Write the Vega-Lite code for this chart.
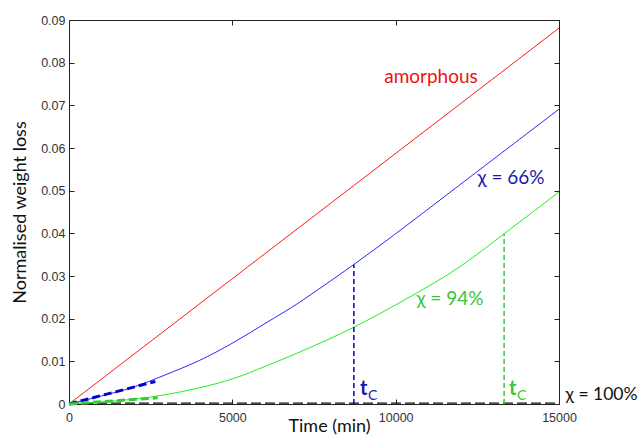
{
  "$schema": "https://vega.github.io/schema/vega-lite/v6.json",
  "autosize": "none",
  "width": 490,
  "height": 384,
  "padding": {"left": 69, "top": 20, "right": 83, "bottom": 32},
  "background": "white",
  "config": {
    "view": {"stroke": "#222", "strokeWidth": 1},
    "axis": {
      "domain": false,
      "grid": false,
      "tickColor": "#222",
      "tickSize": -5,
      "labelFont": "Liberation Sans",
      "labelFontSize": 12.5,
      "labelColor": "#333",
      "labelFlush": false,
      "titleFont": "Lato",
      "titleFontWeight": "normal",
      "titleFontSize": 18,
      "titleColor": "#111"
    }
  },
  "datasets": {
    "curves": [
      {"series": "amorphous", "t": 0, "v": 0},
      {"series": "amorphous", "t": 15000, "v": 0.0881},
      {"series": "c66", "t": 0, "v": 0},
      {"series": "c66", "t": 1000, "v": 0.0019},
      {"series": "c66", "t": 1950, "v": 0.0039},
      {"series": "c66", "t": 2970, "v": 0.0069},
      {"series": "c66", "t": 3990, "v": 0.0102},
      {"series": "c66", "t": 5010, "v": 0.0143},
      {"series": "c66", "t": 6030, "v": 0.0190},
      {"series": "c66", "t": 7071, "v": 0.0239},
      {"series": "c66", "t": 7377, "v": 0.0255},
      {"series": "c66", "t": 8720, "v": 0.0327},
      {"series": "c66", "t": 9929, "v": 0.0395},
      {"series": "c66", "t": 11969, "v": 0.0514},
      {"series": "c66", "t": 15000, "v": 0.0691},
      {"series": "c94", "t": 0, "v": 0},
      {"series": "c94", "t": 1000, "v": 0.0005},
      {"series": "c94", "t": 1950, "v": 0.0011},
      {"series": "c94", "t": 2970, "v": 0.0022},
      {"series": "c94", "t": 3990, "v": 0.0038},
      {"series": "c94", "t": 5010, "v": 0.0059},
      {"series": "c94", "t": 6030, "v": 0.0089},
      {"series": "c94", "t": 7071, "v": 0.0122},
      {"series": "c94", "t": 8720, "v": 0.0180},
      {"series": "c94", "t": 10133, "v": 0.0238},
      {"series": "c94", "t": 11969, "v": 0.0322},
      {"series": "c94", "t": 13320, "v": 0.0399},
      {"series": "c94", "t": 15000, "v": 0.0497},
      {"series": "tan66", "t": 0, "v": 0},
      {"series": "tan66", "t": 2643, "v": 0.00528},
      {"series": "tan94", "t": 0, "v": 0},
      {"series": "tan94", "t": 2714, "v": 0.00145},
      {"series": "tc66", "t": 8720, "v": 0},
      {"series": "tc66", "t": 8720, "v": 0.0327},
      {"series": "tc94", "t": 13320, "v": 0},
      {"series": "tc94", "t": 13320, "v": 0.0399},
      {"series": "c100", "t": 0, "v": 0.0002},
      {"series": "c100", "t": 15000, "v": 0.0002}
    ],
    "labels": [
      {"name": "amorphous", "t": 11081, "v": 0.0766, "text": "amorphous"},
      {"name": "l66", "t": 13530, "v": 0.0529, "text": "χ = 66%"},
      {"name": "l94", "t": 11662, "v": 0.0245, "text": "χ = 94%"},
      {"name": "l100", "t": 15200, "v": 0.0020, "text": "χ = 100%"},
      {"name": "t66", "t": 8908, "v": 0.0020, "text": "t"},
      {"name": "C66", "t": 9153, "v": 0.0010, "text": "C"},
      {"name": "t94", "t": 13469, "v": 0.0020, "text": "t"},
      {"name": "C94", "t": 13714, "v": 0.0010, "text": "C"}
    ]
  },
  "resolve": {"axis": {"x": "independent", "y": "independent"}},
  "layer": [
    {
      "data": {"name": "curves"},
      "transform": [{"filter": "datum.series === 'amorphous'"}],
      "mark": {"type": "line", "color": "#ff1a1a", "strokeWidth": 1},
      "encoding": {
        "x": {"field": "t", "type": "quantitative", "scale": {"domain": [0, 15000], "nice": false},
          "axis": {"orient": "bottom", "values": [0, 5000, 10000, 15000], "format": "d", "labelPadding": 12,
            "title": "Time (min)", "titleAnchor": "start", "titleAlign": "center", "titleX": 260, "titleY": 22, "titleBaseline": "middle"}},
        "y": {"field": "v", "type": "quantitative", "scale": {"domain": [0, 0.09], "nice": false},
          "axis": {"orient": "left", "values": [0, 0.01, 0.02, 0.03, 0.04, 0.05, 0.06, 0.07, 0.08, 0.09], "labelExpr": "datum.value === 0 ? '0' : format(datum.value, '.2f')", "labelPadding": 9,
            "title": "Normalised weight loss", "titleAngle": -90, "titleX": -49, "titleY": 192, "titleAlign": "center", "titleBaseline": "middle"}}
      }
    },
    {
      "data": {"name": "curves"},
      "transform": [{"filter": "datum.series === 'c100'"}],
      "mark": {"type": "line", "color": "#111", "strokeWidth": 1.4, "strokeDash": [10, 4]},
      "encoding": {
        "x": {"field": "t", "type": "quantitative", "axis": {"orient": "top", "values": [0, 5000, 10000, 15000], "labels": false, "title": null}},
        "y": {"field": "v", "type": "quantitative", "axis": {"orient": "right", "values": [0, 0.01, 0.02, 0.03, 0.04, 0.05, 0.06, 0.07, 0.08, 0.09], "labels": false, "title": null}}
      }
    },
    {
      "data": {"name": "curves"},
      "transform": [{"filter": "datum.series === 'c66'"}],
      "mark": {"type": "line", "color": "#2a2aff", "strokeWidth": 1, "interpolate": "monotone"},
      "encoding": {
        "x": {"field": "t", "type": "quantitative", "axis": null},
        "y": {"field": "v", "type": "quantitative", "axis": null}
      }
    },
    {
      "data": {"name": "curves"},
      "transform": [{"filter": "datum.series === 'c94'"}],
      "mark": {"type": "line", "color": "#22ee22", "strokeWidth": 1, "interpolate": "monotone"},
      "encoding": {
        "x": {"field": "t", "type": "quantitative", "axis": null},
        "y": {"field": "v", "type": "quantitative", "axis": null}
      }
    },
    {
      "data": {"name": "curves"},
      "transform": [{"filter": "datum.series === 'tan66'"}],
      "mark": {"type": "line", "color": "#0000cc", "strokeWidth": 3, "strokeDash": [8, 4]},
      "encoding": {
        "x": {"field": "t", "type": "quantitative", "axis": null},
        "y": {"field": "v", "type": "quantitative", "axis": null}
      }
    },
    {
      "data": {"name": "curves"},
      "transform": [{"filter": "datum.series === 'tan94'"}],
      "mark": {"type": "line", "color": "#33cc33", "strokeWidth": 3, "strokeDash": [8, 4]},
      "encoding": {
        "x": {"field": "t", "type": "quantitative", "axis": null},
        "y": {"field": "v", "type": "quantitative", "axis": null}
      }
    },
    {
      "data": {"name": "curves"},
      "transform": [{"filter": "datum.series === 'tc66'"}],
      "mark": {"type": "line", "color": "#0000cc", "strokeWidth": 1.5, "strokeDash": [5, 3]},
      "encoding": {
        "x": {"field": "t", "type": "quantitative", "axis": null},
        "y": {"field": "v", "type": "quantitative", "axis": null},
        "order": {"field": "v"}
      }
    },
    {
      "data": {"name": "curves"},
      "transform": [{"filter": "datum.series === 'tc94'"}],
      "mark": {"type": "line", "color": "#33cc33", "strokeWidth": 1.5, "strokeDash": [5, 3]},
      "encoding": {
        "x": {"field": "t", "type": "quantitative", "axis": null},
        "y": {"field": "v", "type": "quantitative", "axis": null},
        "order": {"field": "v"}
      }
    },
    {
      "data": {"name": "labels"},
      "transform": [{"filter": "datum.name === 'amorphous'"}],
      "mark": {"type": "text", "font": "Lato", "fontSize": 19, "color": "#ee1111", "align": "center", "baseline": "middle"},
      "encoding": {
        "x": {"field": "t", "type": "quantitative", "axis": null},
        "y": {"field": "v", "type": "quantitative", "axis": null},
        "text": {"field": "text"}
      }
    },
    {
      "data": {"name": "labels"},
      "transform": [{"filter": "datum.name === 'l66'"}],
      "mark": {"type": "text", "font": "Lato", "fontSize": 19, "color": "#1a1aaa", "align": "center", "baseline": "middle"},
      "encoding": {
        "x": {"field": "t", "type": "quantitative", "axis": null},
        "y": {"field": "v", "type": "quantitative", "axis": null},
        "text": {"field": "text"}
      }
    },
    {
      "data": {"name": "labels"},
      "transform": [{"filter": "datum.name === 'l94'"}],
      "mark": {"type": "text", "font": "Lato", "fontSize": 19, "color": "#3dc43d", "align": "center", "baseline": "middle"},
      "encoding": {
        "x": {"field": "t", "type": "quantitative", "axis": null},
        "y": {"field": "v", "type": "quantitative", "axis": null},
        "text": {"field": "text"}
      }
    },
    {
      "data": {"name": "labels"},
      "transform": [{"filter": "datum.name === 'l100'"}],
      "mark": {"type": "text", "font": "Lato", "fontSize": 17.5, "color": "#111", "align": "left", "baseline": "middle"},
      "encoding": {
        "x": {"field": "t", "type": "quantitative", "axis": null},
        "y": {"field": "v", "type": "quantitative", "axis": null},
        "text": {"field": "text"}
      }
    },
    {
      "data": {"name": "labels"},
      "transform": [{"filter": "datum.name === 't66'"}],
      "mark": {"type": "text", "font": "Lato", "fontSize": 20, "fontWeight": "bold", "color": "#1a1aaa", "align": "left", "baseline": "alphabetic"},
      "encoding": {
        "x": {"field": "t", "type": "quantitative", "axis": null},
        "y": {"field": "v", "type": "quantitative", "axis": null},
        "text": {"field": "text"}
      }
    },
    {
      "data": {"name": "labels"},
      "transform": [{"filter": "datum.name === 'C66'"}],
      "mark": {"type": "text", "font": "Lato", "fontSize": 14, "color": "#1a1aaa", "align": "left", "baseline": "alphabetic"},
      "encoding": {
        "x": {"field": "t", "type": "quantitative", "axis": null},
        "y": {"field": "v", "type": "quantitative", "axis": null},
        "text": {"field": "text"}
      }
    },
    {
      "data": {"name": "labels"},
      "transform": [{"filter": "datum.name === 't94'"}],
      "mark": {"type": "text", "font": "Lato", "fontSize": 20, "fontWeight": "bold", "color": "#3dc43d", "align": "left", "baseline": "alphabetic"},
      "encoding": {
        "x": {"field": "t", "type": "quantitative", "axis": null},
        "y": {"field": "v", "type": "quantitative", "axis": null},
        "text": {"field": "text"}
      }
    },
    {
      "data": {"name": "labels"},
      "transform": [{"filter": "datum.name === 'C94'"}],
      "mark": {"type": "text", "font": "Lato", "fontSize": 14, "color": "#3dc43d", "align": "left", "baseline": "alphabetic"},
      "encoding": {
        "x": {"field": "t", "type": "quantitative", "axis": null},
        "y": {"field": "v", "type": "quantitative", "axis": null},
        "text": {"field": "text"}
      }
    }
  ]
}
